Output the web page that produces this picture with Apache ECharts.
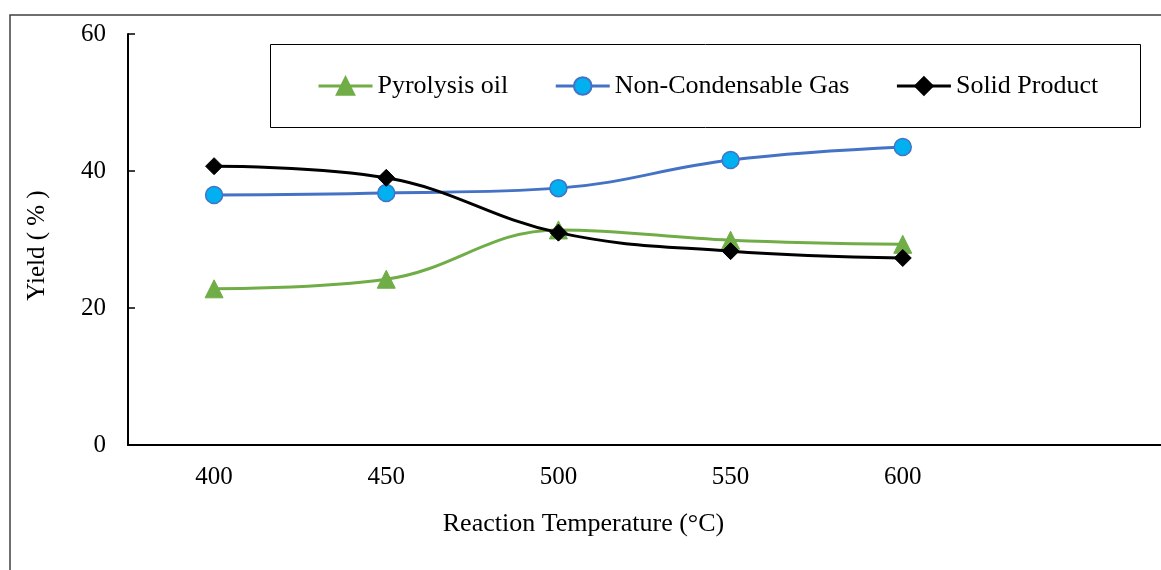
<!DOCTYPE html>
<html><head><meta charset="utf-8">
<script src="https://cdn.jsdelivr.net/npm/echarts@6/dist/echarts.min.js"></script>
<style>html,body{margin:0;padding:0;background:#fff}#c{width:1161px;height:570px}</style>
</head><body><div id="c"></div>
<script>
const categories = ['400', '450', '500', '550', '600', ''];
const pyrolysisOil = [22.8, 24.2, 31.4, 29.9, 29.3];
const nonCondensableGas = [36.5, 36.8, 37.5, 41.6, 43.5];
const solidProduct = [40.7, 39.0, 31.0, 28.3, 27.3];
const yTicks = [0, 20, 40, 60];

const FONT = '"Liberation Serif", "Times New Roman", serif';
const chart = echarts.init(document.getElementById('c'), null, {renderer: 'canvas'});
chart.setOption({
  animation: false,
  backgroundColor: '#fff',
  textStyle: {fontFamily: FONT, color: '#000'},
  graphic: [
    {type: 'rect', shape: {x: 10, y: 15, width: 1180, height: 600}, style: {fill: 'none', stroke: '#404040', lineWidth: 1.5}, z: -1},
    {type: 'rect', shape: {x: 270.5, y: 44.5, width: 870, height: 83}, style: {fill: '#fff', stroke: '#000', lineWidth: 1}, z: 5}
  ],
  legend: {
    left: 312, top: 68, z: 10,
    itemWidth: 54, itemHeight: 22, itemGap: 46,
    textStyle: {fontFamily: FONT, fontSize: 26, color: '#000'},
    lineStyle: {width: 3},
    data: ['Pyrolysis oil', 'Non-Condensable Gas', 'Solid Product']
  },
  grid: {left: 128, top: 34, width: 1038, height: 411, containLabel: false},
  xAxis: {
    type: 'category', data: categories, boundaryGap: true,
    name: 'Reaction Temperature (°C)', nameLocation: 'middle', nameGap: 66,
    nameTextStyle: {fontFamily: FONT, fontSize: 26, color: '#000', padding: [0, 122, 0, 0]},
    axisLine: {lineStyle: {color: '#000', width: 2}},
    axisTick: {inside: true, length: 6, alignWithLabel: true, lineStyle: {color: '#000', width: 1.5}},
    axisLabel: {fontFamily: FONT, fontSize: 25, color: '#000', margin: 20},
    splitLine: {show: false}
  },
  yAxis: {
    type: 'value', min: 0, max: 60, interval: 20,
    name: 'Yield ( % )', nameLocation: 'middle', nameGap: 78,
    nameTextStyle: {fontFamily: FONT, fontSize: 25, color: '#000', padding: [0, 12, 0, 0]},
    axisLine: {show: true, lineStyle: {color: '#000', width: 2}},
    axisTick: {show: true, inside: true, length: 7, lineStyle: {color: '#000', width: 1.5}},
    axisLabel: {fontFamily: FONT, fontSize: 25, color: '#000', margin: 22,
      formatter: v => yTicks.includes(v) ? String(v) : ''},
    splitLine: {show: false}
  },
  series: [
    {name: 'Pyrolysis oil', type: 'line', data: pyrolysisOil, smooth: 0.4,
      symbol: 'triangle', symbolSize: 18,
      lineStyle: {color: '#70AD47', width: 3},
      itemStyle: {color: '#70AD47', borderColor: '#70AD47', borderWidth: 1}, z: 3},
    {name: 'Non-Condensable Gas', type: 'line', data: nonCondensableGas, smooth: 0.4,
      symbol: 'circle', symbolSize: 17,
      lineStyle: {color: '#4472C4', width: 3},
      itemStyle: {color: '#00B0F0', borderColor: '#4472C4', borderWidth: 1.5}, z: 2},
    {name: 'Solid Product', type: 'line', data: solidProduct, smooth: 0.4,
      symbol: 'diamond', symbolSize: 17,
      lineStyle: {color: '#000', width: 3},
      itemStyle: {color: '#000', borderColor: '#000', borderWidth: 1}, z: 4}
  ]
});
</script></body></html>
